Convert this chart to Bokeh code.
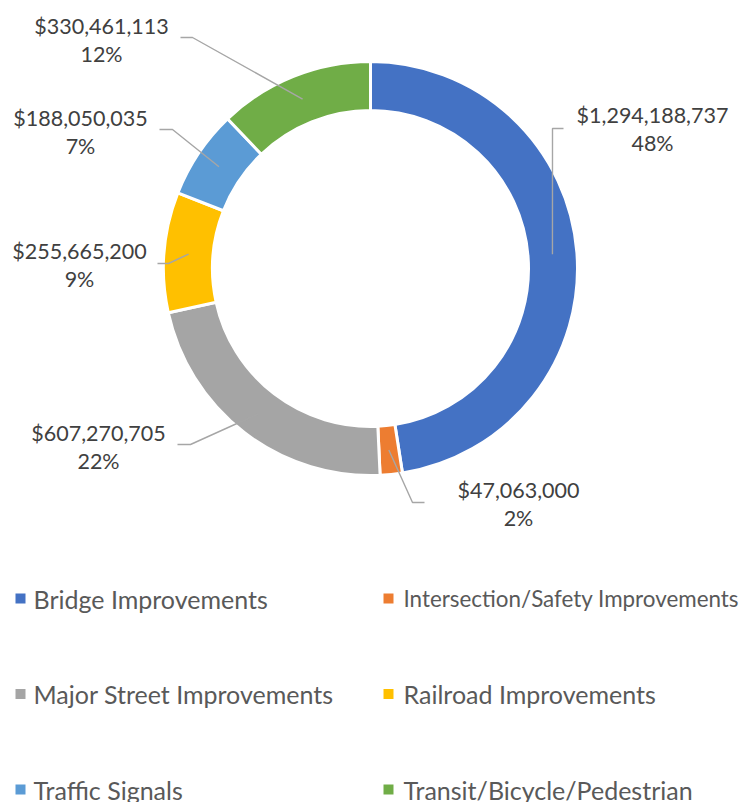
import math
from bokeh.plotting import figure
from bokeh.models import Range1d, ColumnDataSource
from bokeh.core.properties import value
from bokeh.embed import file_html
from bokeh.resources import INLINE

# ---------------- data ----------------
categories = ["Bridge Improvements", "Intersection/Safety Improvements",
              "Major Street Improvements", "Railroad Improvements",
              "Traffic Signals", "Transit/Bicycle/Pedestrian"]
amounts = [1294188737, 47063000, 607270705, 255665200, 188050035, 330461113]
colors = ["#4472C4", "#ED7D31", "#A5A5A5", "#FFC000", "#5B9BD5", "#70AD47"]

# ---------------- layout (page pixel coords) ----------------
W, H = 755, 802
CX, CY = 370, 268          # donut centre (page coords)
R_OUT, R_IN = 207, 158
FONT = "Lato"

def py(y):  # page y -> data y
    return H - y

# label layout: (text centre x, first line centre y, elbow x, elbow y, end x)
label_layout = [
    (652, 114, 552, 128, 563),
    (518, 489, 412, 502, 424),
    (98, 432, 190, 444, 177),
    (79, 250, 168, 263, 157),
    (80, 117, 172, 129, 159),
    (101, 25, 192, 37, 180),
]

p = figure(width=W, height=H, output_backend="svg", toolbar_location=None,
           x_range=Range1d(0, W), y_range=Range1d(0, H),
           min_border=0, outline_line_color=None)
p.axis.visible = False
p.grid.visible = False
p.background_fill_color = "white"

total = float(sum(amounts))
cum = 0.0
starts, ends, mids = [], [], []
for a in amounts:
    c0 = cum / total
    cum += a
    c1 = cum / total
    starts.append(math.pi / 2 - 2 * math.pi * c1)
    ends.append(math.pi / 2 - 2 * math.pi * c0)
    mids.append((c0 + c1) / 2)

src = ColumnDataSource(dict(x=[CX] * len(amounts), y=[py(CY)] * len(amounts),
                            start=starts, end=ends, color=colors))
p.annular_wedge(x="x", y="y", inner_radius=R_IN, outer_radius=R_OUT,
                start_angle="start", end_angle="end", fill_color="color",
                line_color="white", line_width=3, source=src)

# leader lines and labels
r_mid = (R_IN + R_OUT) / 2
for i, a in enumerate(amounts):
    tx, ty, ex, ey, endx = label_layout[i]
    ang = 2 * math.pi * mids[i]
    sx = CX + r_mid * math.sin(ang)
    sy = CY - r_mid * math.cos(ang)
    p.line([sx, ex, endx], [py(sy), py(ey), py(ey)], line_color="#A6A6A6",
           line_width=1.4)
    pct = round(100 * a / total)
    p.text(x=[tx], y=[py(ty)], text=["${:,}".format(a)], text_align="center",
           text_baseline="middle", text_font=value(FONT), text_font_size="21.5px",
           text_color="#404040")
    p.text(x=[tx], y=[py(ty + 28)], text=["{}%".format(pct)], text_align="center",
           text_baseline="middle", text_font=value(FONT), text_font_size="21.5px",
           text_color="#404040")

# legend (manual, 2 columns x 3 rows)
leg_cols = [(20, 33), (388, 403)]
leg_rows = [598, 693.5, 789]
leg_sizes = ["25px", "22.4px", "25px", "25px", "25px", "25px"]
for i, cat in enumerate(categories):
    col = leg_cols[i % 2]
    row = leg_rows[i // 2]
    p.scatter(x=[col[0]], y=[py(row)], marker="square", size=10,
              fill_color=colors[i], line_color=None)
    p.text(x=[col[1]], y=[py(row)], text=[cat], text_align="left",
           text_baseline="middle", text_font=value(FONT),
           text_font_size=leg_sizes[i], text_color="#595959")

open("out.html", "w").write(file_html(p, INLINE))
